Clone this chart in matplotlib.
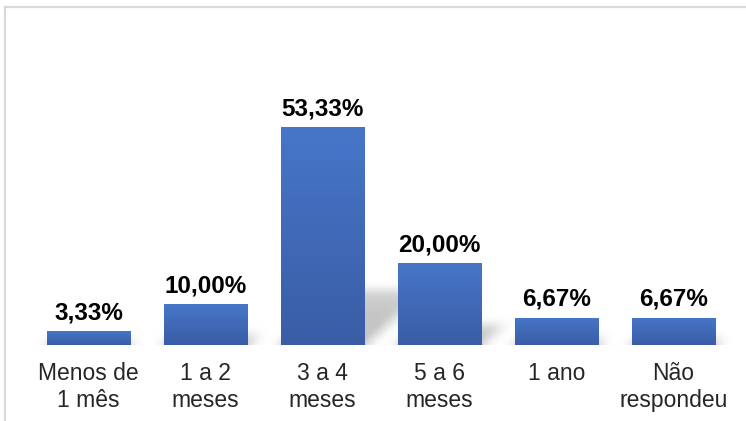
import numpy as np
import matplotlib
matplotlib.use("Agg")
import matplotlib.pyplot as plt
from matplotlib.lines import Line2D
from matplotlib.colors import LinearSegmentedColormap

plt.rcParams['font.family'] = ['Liberation Sans', 'DejaVu Sans']

# Tempo de uso / distribution of answers
categories = ["Menos de\n1 mês", "1 a 2\nmeses", "3 a 4\nmeses",
              "5 a 6\nmeses", "1 ano", "Não\nrespondeu"]
values = [3.33, 10.00, 53.33, 20.00, 6.67, 6.67]
value_labels = ["3,33%", "10,00%", "53,33%", "20,00%", "6,67%", "6,67%"]

W, H = 746, 421
fig = plt.figure(figsize=(W / 100, H / 100), dpi=100)

# axes placed so that the baseline sits near the bottom third
ax_left, ax_right = 30, 732
ax_base, ax_top = 345, 10
ax = fig.add_axes([ax_left / W, 1 - ax_base / H,
                   (ax_right - ax_left) / W, (ax_base - ax_top) / H])
px_per_unit = 218 / 53.33
ymax = (ax_base - ax_top) / px_per_unit
ax.set_xlim(-0.5, len(values) - 0.5)
ax.set_ylim(0, ymax)

x = np.arange(len(values))
bar_w = 0.71

# soft floor shadow cast to the right of each bar
nx, ny = 700, 340
gx = np.linspace(-0.5, len(values) - 0.5, nx)
gy = np.linspace(0, ymax, ny)
XX, YY = np.meshgrid(gx, gy)
mask = np.zeros_like(XX)
for xi, v in zip(x, values):
    sh = 0.25 * v                  # shadow height
    skew = 0.55 / 53.33 * v        # horizontal shift at the top
    frac = np.clip(YY / max(sh, 1e-6), 0, None)
    left = xi - bar_w / 2 + skew * frac
    right = xi + bar_w / 2 + skew * frac
    inside = (YY <= sh) & (XX >= left) & (XX <= right)
    mask = np.maximum(mask, inside * (1 - 0.4 * frac))


def box_blur(a, r, axis):
    c = np.cumsum(np.pad(a, [(r + 1, r) if i == axis else (0, 0) for i in range(2)],
                         mode='edge'), axis=axis)
    if axis == 0:
        return (c[2 * r + 1:] - c[:-2 * r - 1]) / (2 * r + 1)
    return (c[:, 2 * r + 1:] - c[:, :-2 * r - 1]) / (2 * r + 1)


for _ in range(3):
    mask = box_blur(mask, 4, 0)
    mask = box_blur(mask, 6, 1)

rgba = np.zeros((ny, nx, 4))
rgba[..., :3] = 0.55
rgba[..., 3] = np.clip(mask * 1.3, 0, 1) * 0.5
ax.imshow(rgba, extent=(-0.5, len(values) - 0.5, 0, ymax), origin='lower',
          aspect='auto', zorder=1, interpolation='bilinear')

# bars with a vertical blue gradient
grad_cmap = LinearSegmentedColormap.from_list("bar", ["#3A5DA6", "#4776C8"])
grad = np.linspace(0, 1, 256).reshape(-1, 1)
bars = ax.bar(x, values, width=bar_w, color="#4169B8", edgecolor="#6E92D2",
              linewidth=0.6, zorder=2)
for b in bars:
    bx, by = b.get_x(), b.get_y()
    im = ax.imshow(grad, cmap=grad_cmap, origin='lower', aspect='auto',
                   extent=(bx, bx + b.get_width(), by, by + b.get_height()),
                   zorder=3)
    im.set_clip_path(b)

for xi, v, lab in zip(x, values, value_labels):
    ax.annotate(lab, (xi, v), xytext=(0, 5), textcoords='offset points',
                ha='center', va='bottom', fontsize=17.5, fontweight='bold',
                color='black', zorder=4)

ax.set_xticks(x)
ax.set_xticklabels(categories, fontsize=16.5, color='#262626', linespacing=1.25)
ax.tick_params(axis='x', length=0, pad=12)
ax.set_yticks([])
for s in ax.spines.values():
    s.set_visible(False)
ax.set_xlim(-0.5, len(values) - 0.5)
ax.set_ylim(0, ymax)

# light chart border (top and left edges)
fig.add_artist(Line2D([5 / W, 5 / W], [0, 1 - 7 / H], transform=fig.transFigure,
                      color='#D9D9D9', linewidth=1.6))
fig.add_artist(Line2D([5 / W, 1], [1 - 7 / H, 1 - 7 / H], transform=fig.transFigure,
                      color='#D9D9D9', linewidth=1.6))

fig.savefig("out.png", dpi=100)
